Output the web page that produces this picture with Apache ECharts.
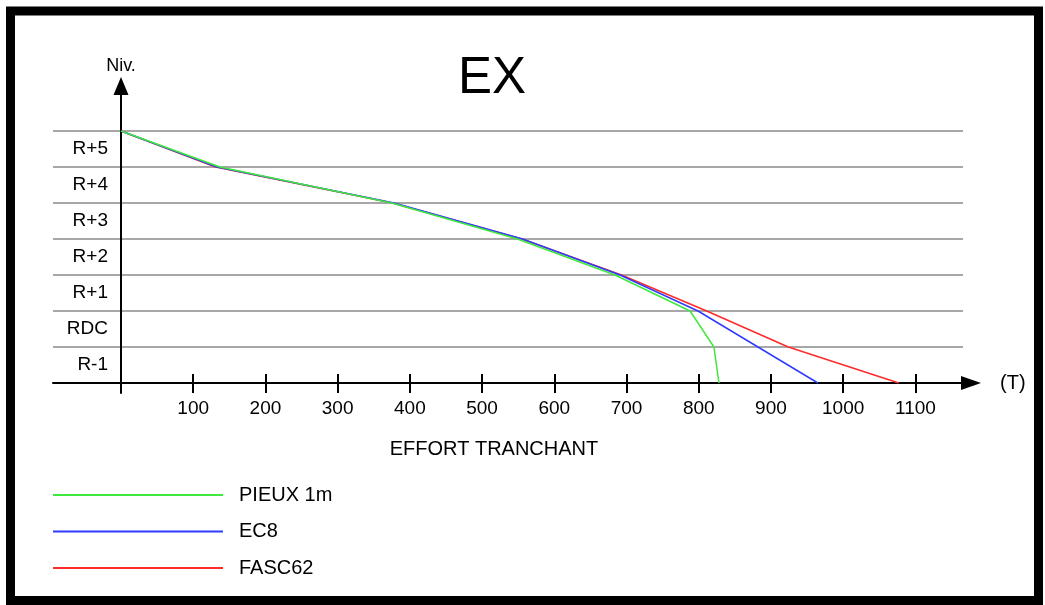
<!DOCTYPE html>
<html>
<head>
<meta charset="utf-8">
<script src="https://cdn.jsdelivr.net/npm/echarts@6/dist/echarts.min.js"></script>
<style>
  html, body { margin: 0; padding: 0; background: #fff; }
  #chart { width: 1045px; height: 605px; }
</style>
</head>
<body>
<div id="chart"></div>
<script>
// ---- data ----
const levelNames = ['R-1', 'RDC', 'R+1', 'R+2', 'R+3', 'R+4', 'R+5'];
const levelValues = [7, 6, 5, 4, 3, 2, 1, 0];
const pieux1m = [0, 137, 375, 549, 684, 788, 821, 828];
const ec8     = [0, 133, 378, 556, 691, 799, 882, 965];
const fasc62  = [0, 131, 376, 555, 693, 811, 924, 1077];
const xTicks  = [100, 200, 300, 400, 500, 600, 700, 800, 900, 1000, 1100];
const seriesNames = ['PIEUX 1m', 'EC8', 'FASC62'];
const seriesColors = ['#3ee83e', '#2f3cff', '#ff2a2a'];

const toPairs = (xs) => xs.map((x, i) => [x, levelValues[i]]);

const FONT = 'Liberation Sans, Arial, sans-serif';
const chart = echarts.init(document.getElementById('chart'), null, { renderer: 'canvas' });

const option = {
  backgroundColor: '#fff',
  animation: false,
  title: [
    { text: 'EX', left: 487, top: 48, textAlign: 'center',
      textStyle: { fontFamily: FONT, fontSize: 51, fontWeight: 'normal', color: '#000' } },
    { text: 'EFFORT TRANCHANT', left: 489, top: 434, textAlign: 'center',
      textStyle: { fontFamily: FONT, fontSize: 20, fontWeight: 'normal', color: '#000' } }
  ],
  legend: {
    orient: 'vertical', left: 53, top: 485, padding: 0,
    icon: 'rect', itemWidth: 170, itemHeight: 2, itemGap: 16.5,
    textStyle: { fontFamily: FONT, fontSize: 20, color: '#000', padding: [0, 0, 0, 11] },
    data: seriesNames
  },
  grid: [
    { left: 121, right: 82, top: 95, bottom: 212 },   // y-axis line with arrow
    { left: 53, right: 82, top: 131, bottom: 222 }    // plot area
  ],
  xAxis: [
    { type: 'value', gridIndex: 0, min: 0, max: 1, show: false },
    { type: 'value', gridIndex: 1, position: 'bottom', min: -94.15, max: 1165.9,
      name: '(T)', nameLocation: 'end', nameGap: 37,
      nameTextStyle: { fontFamily: FONT, fontSize: 20, color: '#000' },
      axisLine: { onZero: false, lineStyle: { color: '#000', width: 2 },
                  symbol: ['none', 'triangle'], symbolSize: [14, 20], symbolOffset: [0, 8] },
      axisTick: { show: true, length: 10, lineStyle: { color: '#000', width: 2 }, customValues: xTicks },
      axisLabel: { show: true, margin: 16, fontFamily: FONT, fontSize: 19, color: '#000',
                   customValues: xTicks, formatter: (v) => String(v) },
      splitLine: { show: false } },
    { type: 'value', gridIndex: 1, position: 'bottom', min: -94.15, max: 1165.9,
      axisLine: { show: false, onZero: false },
      axisTick: { show: true, inside: true, length: 9, lineStyle: { color: '#000', width: 2 }, customValues: xTicks },
      axisLabel: { show: false },
      splitLine: { show: false } }
  ],
  yAxis: [
    { type: 'value', gridIndex: 0, min: 0, max: 1,
      name: 'Niv.', nameLocation: 'end', nameGap: 20,
      nameTextStyle: { fontFamily: FONT, fontSize: 18, color: '#000' },
      axisLine: { show: true, onZero: false, lineStyle: { color: '#000', width: 2 },
                  symbol: ['none', 'triangle'], symbolSize: [15, 18], symbolOffset: [0, 9] },
      axisTick: { show: false }, axisLabel: { show: false }, splitLine: { show: false } },
    { type: 'value', gridIndex: 1, min: 0, max: 7, interval: 1,
      axisLine: { show: false, onZero: false }, axisTick: { show: false }, axisLabel: { show: false },
      splitLine: { show: true, lineStyle: { color: '#8a8a8a', width: 1.5 } } },
    { type: 'category', gridIndex: 1, position: 'left', offset: -68, data: levelNames,
      boundaryGap: true,
      axisLine: { show: false }, axisTick: { show: false },
      axisLabel: { margin: 13, fontFamily: FONT, fontSize: 19, color: '#000', padding: [6, 0, 0, 0] },
      splitLine: { show: false } }
  ],
  series: seriesNames.map((name, i) => ({
    name: name, type: 'line', xAxisIndex: 1, yAxisIndex: 1,
    data: toPairs([pieux1m, ec8, fasc62][i]),
    showSymbol: false, symbol: 'none',
    lineStyle: { color: seriesColors[i], width: 1.5 },
    itemStyle: { color: seriesColors[i] },
    z: 3 - i + 2
  })),
  graphic: [
    { type: 'rect', silent: true, z: 100,
      shape: { x: 10.5, y: 11, width: 1028, height: 589.5 },
      style: { fill: 'none', stroke: '#000', lineWidth: 9 } }
  ]
};
chart.setOption(option);
</script>
</body>
</html>
